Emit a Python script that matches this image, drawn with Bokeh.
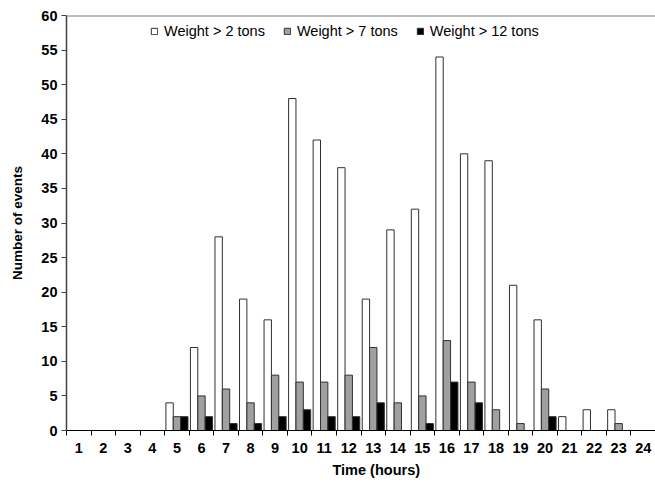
from bokeh.plotting import figure
from bokeh.models import ColumnDataSource, FixedTicker, Span, Legend, LegendItem, Range1d, Title
from bokeh.embed import file_html
from bokeh.resources import INLINE

hours = list(range(1, 25))
w2 = [0, 0, 0, 0, 4, 12, 28, 19, 16, 48, 42, 38, 19, 29, 32, 54, 40, 39, 21, 16, 2, 3, 3, 0]
w7 = [0, 0, 0, 0, 2, 5, 6, 4, 8, 7, 7, 8, 12, 4, 5, 13, 7, 3, 1, 6, 0, 0, 1, 0]
w12 = [0, 0, 0, 0, 2, 2, 1, 1, 2, 3, 2, 2, 4, 0, 1, 7, 4, 0, 0, 2, 0, 0, 0, 0]
series_names = ["Weight > 2 tons", "Weight > 7 tons", "Weight > 12 tons"]
y_ticks = list(range(0, 61, 5))

FONT = "Liberation Sans"
FS = "14.5px"

p = figure(width=655, height=484, output_backend="svg", toolbar_location=None,
           x_range=Range1d(0.5, 24.5), y_range=Range1d(0, 60),
           min_border_left=66, min_border_right=0, min_border_top=15, min_border_bottom=54)
p.outline_line_color = None
p.grid.grid_line_color = None
p.background_fill_color = "white"
p.border_fill_color = "white"

fills = ["white", "#a0a0a0", "black"]
offsets = [-0.3, 0.0, 0.3]
items = []
for vals, name, fc, off in zip([w2, w7, w12], series_names, fills, offsets):
    xs = [h + off for h, v in zip(hours, vals) if v > 0]
    ys = [v for v in vals if v > 0]
    src = ColumnDataSource(dict(x=xs, top=ys))
    r = p.vbar(x="x", top="top", bottom=0, width=0.3, source=src,
               fill_color=fc, line_color="#303030", line_width=1)
    items.append(LegendItem(label=name, renderers=[r]))

legend = Legend(items=items, orientation="horizontal", location=(84, 391),
                border_line_color=None, background_fill_alpha=0,
                label_text_font=FONT, label_text_font_size=FS, label_text_color="black",
                glyph_width=8, glyph_height=8, label_standoff=6, spacing=18,
                margin=0, padding=6)
p.add_layout(legend, "center")

p.add_layout(Span(location=60, dimension="width", line_color="#808080", line_width=2))

# x axis
p.xaxis.ticker = FixedTicker(ticks=hours, minor_ticks=[h - 0.5 for h in hours] + [24.5])
p.xaxis.major_tick_out = 0
p.xaxis.major_tick_in = 0
p.xaxis.minor_tick_out = 5
p.xaxis.minor_tick_in = 0
p.xaxis.minor_tick_line_color = "black"
p.xaxis.axis_line_color = "black"
p.xaxis.major_label_text_font = FONT
p.xaxis.major_label_text_font_style = "bold"
p.xaxis.major_label_text_font_size = FS
p.xaxis.major_label_text_color = "black"
p.xaxis.major_label_standoff = 7

p.add_layout(Title(text="Time (hours)", align="left", offset=266,
                   text_font=FONT, text_font_style="bold", text_font_size=FS,
                   text_color="black", standoff=9), "below")

# y axis
p.yaxis.ticker = FixedTicker(ticks=y_ticks, minor_ticks=[])
p.yaxis.major_tick_out = 5
p.yaxis.major_tick_in = 0
p.yaxis.major_tick_line_color = "#404040"
p.yaxis.axis_line_color = "#404040"
p.yaxis.axis_line_width = 1.5
p.yaxis.major_label_text_font = FONT
p.yaxis.major_label_text_font_style = "bold"
p.yaxis.major_label_text_font_size = FS
p.yaxis.major_label_text_color = "black"
p.yaxis.major_label_standoff = 4
p.yaxis.axis_label = "Number of events"
p.yaxis.axis_label_text_font = FONT
p.yaxis.axis_label_text_font_style = "bold"
p.yaxis.axis_label_text_font_size = "13.5px"
p.yaxis.axis_label_text_color = "black"
p.yaxis.axis_label_standoff = 13

open("out.html", "w").write(file_html(p, INLINE))
